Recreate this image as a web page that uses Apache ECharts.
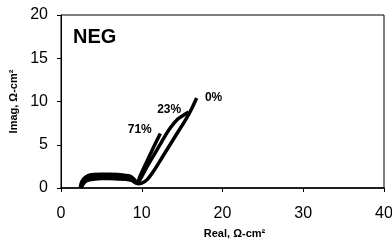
<!DOCTYPE html>
<html><head><meta charset="utf-8">
<script src="https://cdn.jsdelivr.net/npm/echarts@6/dist/echarts.min.js"></script>
<style>html,body{margin:0;padding:0;background:#fff}#c{width:392px;height:242px}</style>
</head><body><div id="c"></div>
<script>
const xTicks = [0, 10, 20, 30, 40];
const yTicks = [0, 5, 10, 15, 20];
const curve0 = [[2.4,0],[2.5,0.55],[2.8,1.05],[3.3,1.4],[4,1.55],[5,1.6],[6,1.6],[7,1.55],[8,1.45],[8.7,1.3],[9.2,0.85],[9.5,0.5],[10,0.55],[10.7,1.0],[11.5,2.0],[12.5,3.5],[13.5,5.0],[14.5,6.5],[15.5,8.0],[16.2,9.2],[16.8,10.4]];
const curve23 = [[2.45,0],[2.6,0.5],[2.9,0.95],[3.4,1.2],[4,1.35],[5,1.4],[6,1.4],[7,1.35],[8,1.3],[8.7,1.15],[9.2,0.75],[9.4,0.55],[9.8,1.0],[10.5,2.2],[11.5,3.8],[12.5,5.4],[13.5,6.9],[14.5,8.0],[15.3,8.5],[15.8,8.8]];
const curve71 = [[2.5,0],[2.7,0.4],[3,0.75],[3.5,0.95],[4.2,1.05],[5,1.1],[6,1.1],[7,1.05],[8,1.0],[8.8,0.85],[9.2,0.6],[9.4,0.55],[9.8,1.4],[10.5,2.8],[11.3,4.4],[12.3,6.3]];
const labelNames = ['0%', '23%', '71%'];
const labelPos = [[18.9,10.4],[13.4,9.1],[9.75,6.7]];
const seriesData = [curve0, curve23, curve71];

const chart = echarts.init(document.getElementById('c'), null, {renderer:'canvas'});
const font = "'Liberation Sans', Arial, sans-serif";
chart.setOption({
  animation: false,
  grid: {left: 61, right: 8, top: 15, bottom: 54, show: true, borderColor: '#000', borderWidth: 1, containLabel: false, outerBoundsMode: 'none'},
  xAxis: {
    type: 'value', min: xTicks[0], max: xTicks[xTicks.length-1], interval: 10,
    axisLine: {show: true, lineStyle: {color: '#000', width: 1.5}},
    axisTick: {show: true, length: 4, lineStyle: {color: '#000'}},
    splitLine: {show: false},
    axisLabel: {color: '#000', fontSize: 16, fontFamily: font, margin: 18},
    name: 'Real, Ω-cm²', nameLocation: 'middle', nameGap: 40,
    nameTextStyle: {color: '#000', fontSize: 11, fontWeight: 'bold', fontFamily: font, padding: [0,0,0,24]}
  },
  yAxis: {
    type: 'value', min: yTicks[0], max: yTicks[yTicks.length-1], interval: 5,
    axisLine: {show: true, lineStyle: {color: '#000', width: 1}},
    axisTick: {show: true, length: 4, lineStyle: {color: '#000'}},
    splitLine: {show: false},
    axisLabel: {color: '#000', fontSize: 16, fontFamily: font, margin: 13},
    name: 'Imag, Ω-cm²', nameLocation: 'middle', nameGap: 41,
    nameTextStyle: {color: '#000', fontSize: 11, fontWeight: 'bold', fontFamily: font}
  },
  graphic: [{type: 'text', left: 73, top: 27, style: {text: 'NEG', font: "bold 20px 'Liberation Sans', Arial, sans-serif", fill: '#000'}}],
  series: seriesData.map((d, i) => ({
    type: 'line', data: d, showSymbol: false, smooth: 0.3,
    lineStyle: {color: '#000', width: 3.5},
    markPoint: {
      symbolSize: 0,
      data: [{coord: labelPos[i], value: labelNames[i]}],
      label: {show: true, formatter: labelNames[i], color: '#000', fontSize: 12, fontWeight: 'bold', fontFamily: font, position: 'inside'}
    }
  }))
});
</script></body></html>
